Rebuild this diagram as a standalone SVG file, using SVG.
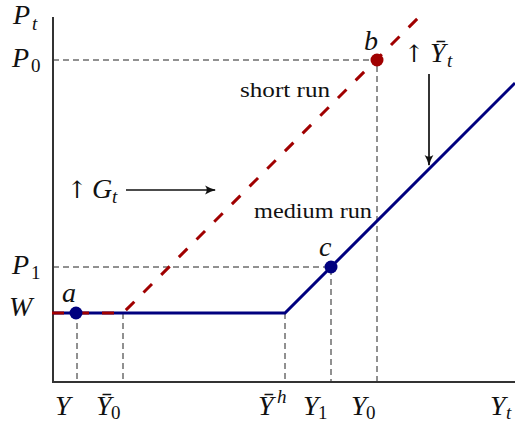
<svg xmlns="http://www.w3.org/2000/svg" width="515" height="423" viewBox="0 0 515 423">
<defs>
<style>
.ax{stroke:#333;stroke-width:2;fill:none}
.gd{stroke:#222;stroke-width:1;stroke-dasharray:6 4;fill:none}
.blue{stroke:#00007f;stroke-width:3;fill:none}
.red{stroke:#a00000;stroke-width:3;fill:none;stroke-dasharray:12 13}
.m{font-family:"Liberation Serif","Times New Roman",serif;font-style:italic;font-size:28px;fill:#111}
.s{font-size:19px;font-style:normal}
.si{font-size:19px;font-style:italic}
.up{font-family:"DejaVu Serif","DejaVu Sans",serif;font-style:normal;font-size:24px}
.t{font-family:"Liberation Serif","Times New Roman",serif;font-size:21px;fill:#111}
.arr{stroke:#111;stroke-width:1.7;fill:none}
</style>
<marker id="ah" viewBox="0 0 10 10" refX="9" refY="5" markerWidth="11" markerHeight="11" orient="auto" markerUnits="userSpaceOnUse">
<path d="M0,1 Q5,4 10,5 Q5,6 0,9 Q3,5 0,1 Z" fill="#111"/>
</marker>
</defs>
<g id="guides">
<path class="gd" d="M53,60 H377 V382"/>
<path class="gd" d="M53,267 H331 V382"/>
<path class="gd" d="M77,313 V382"/>
<path class="gd" d="M123,313 V382"/>
<path class="gd" d="M285,313 V382"/>
</g>
<g id="axes">
<path class="ax" d="M53,17 V383 M52,382 H515"/>
</g>
<g id="connectors">
<path id="medium-run" class="blue" d="M53,313 H285 L515,83"/>
<path id="short-run" class="red" d="M52,313 H123 L420,16"/>
<path class="arr" d="M126,190 H215" marker-end="url(#ah)"/>
<path class="arr" d="M429,74 V165" marker-end="url(#ah)"/>
</g>
<g id="point-a"><circle cx="76" cy="313" r="6.5" fill="#00007f"/><text class="m" x="62" y="302">a</text></g>
<g id="point-b"><circle cx="377" cy="60" r="6.5" fill="#a00000"/><text class="m" x="364" y="50">b</text></g>
<g id="point-c"><circle cx="331" cy="267" r="6.5" fill="#00007f"/><text class="m" x="319" y="256">c</text></g>
<g id="y-labels">
<text class="m" x="13" y="24">P<tspan class="si" x="32" y="30">t</tspan></text>
<text class="m" x="12" y="67">P<tspan class="s" x="31" y="72">0</tspan></text>
<text class="m" x="12" y="274">P<tspan class="s" x="31" y="279">1</tspan></text>
<text class="m" x="9" y="316">W</text>
</g>
<g id="x-labels">
<text class="m" x="55" y="415">Y</text>
<text class="m" x="96" y="415">Ȳ<tspan class="s" x="111" y="419">0</tspan></text>
<text class="m" x="258" y="415">Ȳ<tspan class="si" x="277" y="403">h</tspan></text>
<text class="m" x="303" y="415">Y<tspan class="s" x="318" y="419">1</tspan></text>
<text class="m" x="351" y="415">Y<tspan class="s" x="366" y="419">0</tspan></text>
<text class="m" x="490" y="415">Y<tspan class="si" x="506" y="419">t</tspan></text>
</g>
<g id="annotations">
<text class="m" x="67" y="198"><tspan class="up">↑</tspan><tspan x="92">G</tspan><tspan class="si" x="112" y="203">t</tspan></text>
<text class="m" x="404" y="62"><tspan class="up">↑</tspan><tspan x="430">Ȳ</tspan><tspan class="si" x="447" y="67">t</tspan></text>
<text class="t" x="240" y="97" textLength="90" lengthAdjust="spacingAndGlyphs">short run</text>
<text class="t" x="254" y="218" textLength="118" lengthAdjust="spacingAndGlyphs">medium run</text>
</g>
</svg>
